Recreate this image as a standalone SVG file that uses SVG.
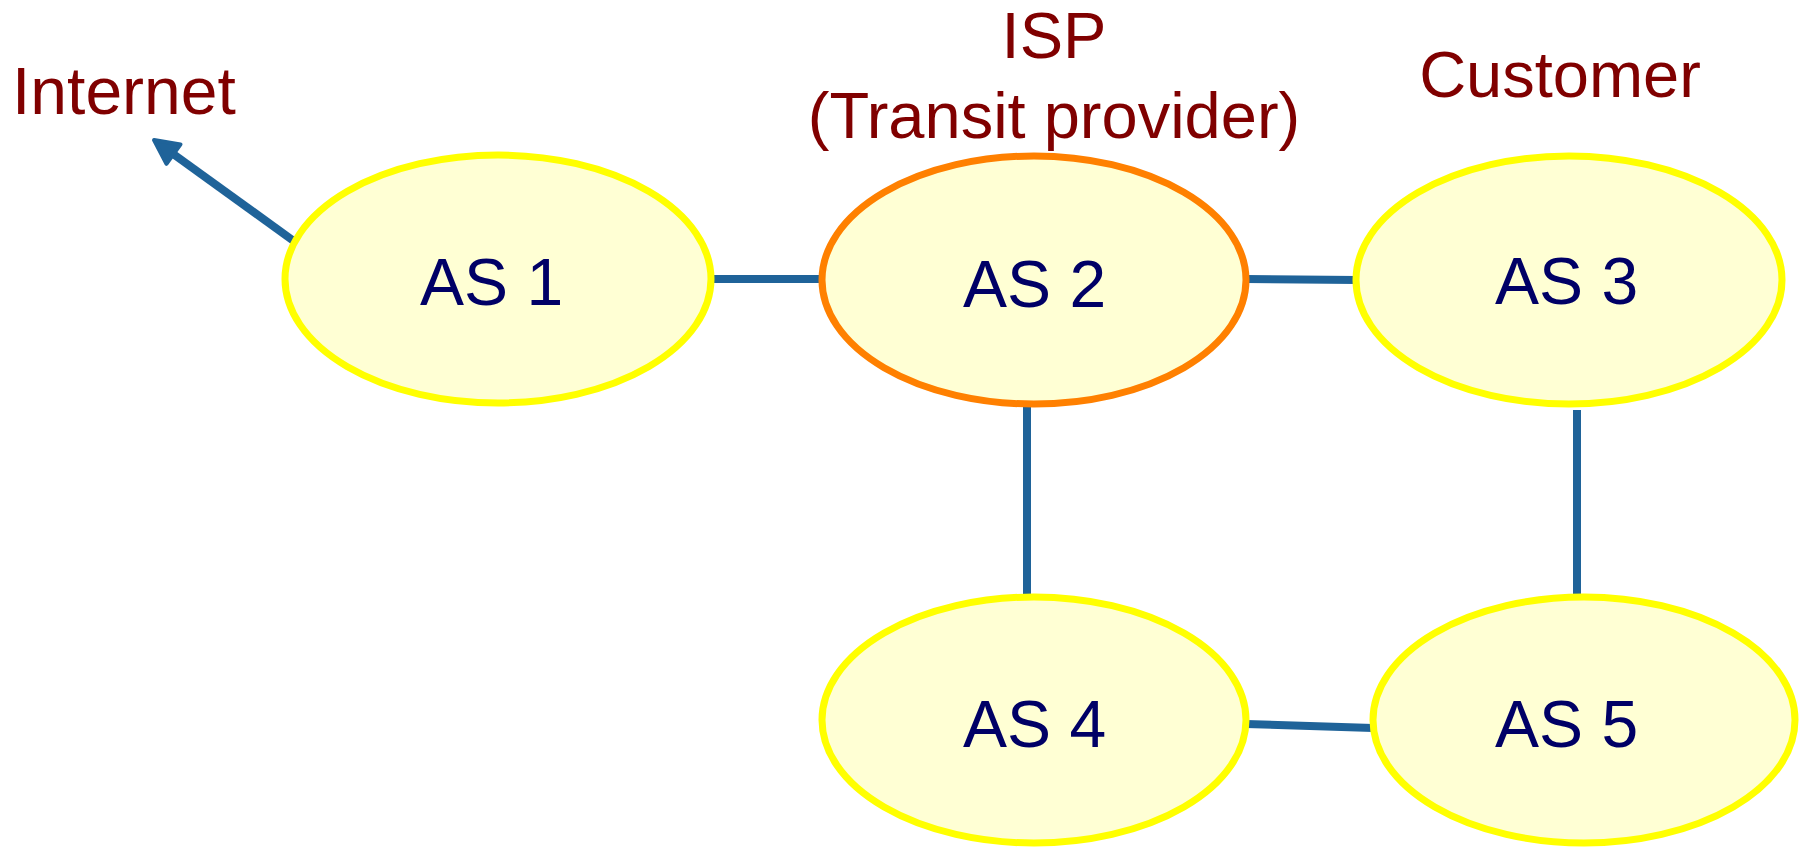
<svg xmlns="http://www.w3.org/2000/svg" width="1800" height="847" viewBox="0 0 1800 847">
<defs>
<style>
.node ellipse{fill:#FFFFD4;stroke-width:7}
.yel{stroke:#FFFF00}
.org{stroke:#FF8000}
.as{font-family:"Liberation Sans",Arial,sans-serif;font-size:66px;fill:#000066}
.lbl{font-family:"Liberation Sans",Arial,sans-serif;font-size:65px;fill:#800000}
.conn line{stroke:#1F6399;stroke-width:8;fill:none}
</style>
<marker id="arrow" markerUnits="userSpaceOnUse" markerWidth="50" markerHeight="50" viewBox="-25 -25 50 50" refX="0" refY="0" orient="auto">
<path d="M16,0 L-8,-12 L-8,12 Z" fill="#1F6399" stroke="#1F6399" stroke-width="4" stroke-linejoin="round"/>
</marker>
</defs>
<rect width="1800" height="847" fill="#FFFFFF"/>
<g id="connectors" class="conn">
<line x1="711" y1="279" x2="822" y2="279"/>
<line x1="1246" y1="279" x2="1357" y2="280"/>
<line x1="1027" y1="403" x2="1027" y2="597"/>
<line x1="1577" y1="410" x2="1577" y2="600"/>
<line x1="1246" y1="724" x2="1373" y2="728"/>
<line x1="302" y1="247" x2="167" y2="149.4" marker-end="url(#arrow)"/>
</g>
<g id="as1" class="node">
<ellipse class="yel" cx="498" cy="279" rx="213" ry="124"/>
<text class="as" x="420" y="305">AS 1</text>
</g>
<g id="as2" class="node">
<ellipse class="org" cx="1034" cy="280" rx="212" ry="124"/>
<text class="as" x="963" y="307">AS 2</text>
</g>
<g id="as3" class="node">
<ellipse class="yel" cx="1569" cy="280" rx="213" ry="124"/>
<text class="as" x="1495" y="304">AS 3</text>
</g>
<g id="as4" class="node">
<ellipse class="yel" cx="1034" cy="720" rx="212" ry="123"/>
<text class="as" x="963" y="747">AS 4</text>
</g>
<g id="as5" class="node">
<ellipse class="yel" cx="1584" cy="720" rx="211" ry="123"/>
<text class="as" x="1495" y="747">AS 5</text>
</g>
<g id="labels">
<text class="lbl" x="12" y="114" style="font-size:66px">Internet</text>
<text class="lbl" x="1054" y="58" text-anchor="middle">ISP</text>
<text class="lbl" x="1054" y="138" text-anchor="middle">(Transit provider)</text>
<text class="lbl" x="1560" y="97" text-anchor="middle">Customer</text>
</g>
</svg>
